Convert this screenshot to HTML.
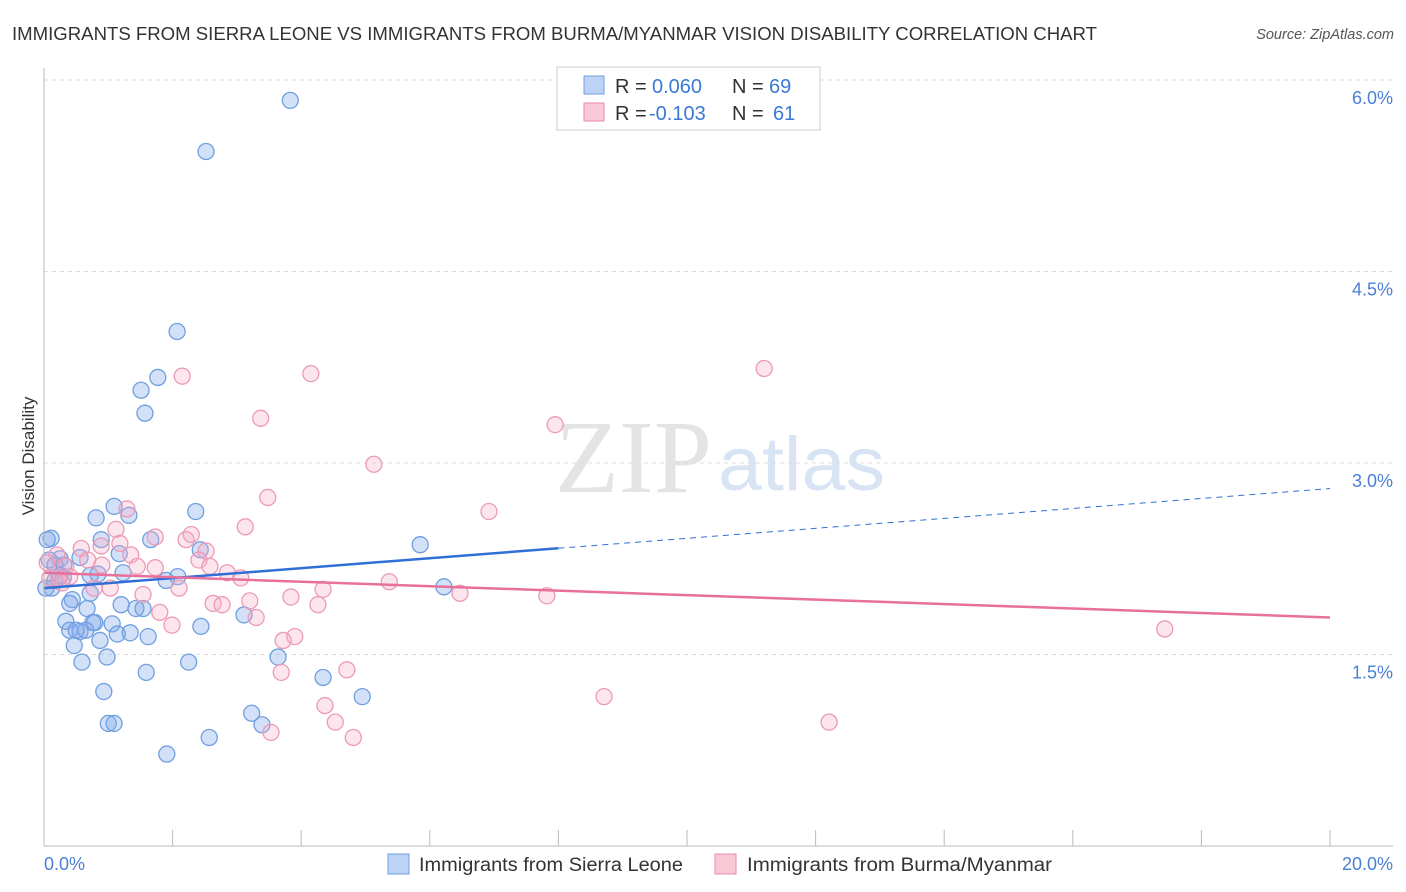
<!DOCTYPE html>
<html><head><meta charset="utf-8"><style>
body{margin:0;background:#fff;font-family:"Liberation Sans",sans-serif;}
#wrap{position:relative;width:1406px;height:892px;overflow:hidden;}
</style></head><body>
<div id="wrap">
<svg id="chart" width="1406" height="892">
<text x="12" y="40" font-size="18.5" fill="#333" textLength="1085" lengthAdjust="spacingAndGlyphs">IMMIGRANTS FROM SIERRA LEONE VS IMMIGRANTS FROM BURMA/MYANMAR VISION DISABILITY CORRELATION CHART</text>
<text x="1394" y="39" font-size="14.5" fill="#555" font-style="italic" text-anchor="end">Source: ZipAtlas.com</text>
<text x="555" y="492" font-size="104" fill="#e4e4e4" font-family="Liberation Serif,serif" textLength="157" lengthAdjust="spacingAndGlyphs">ZIP</text>
<text x="718" y="490" font-size="76" fill="#d8e4f4" textLength="167" lengthAdjust="spacingAndGlyphs">atlas</text>
<text transform="translate(34,456) rotate(-90)" font-size="17" fill="#333" text-anchor="middle">Vision Disability</text>
<g id="grid"></g><g id="pts"></g><g id="lines"></g>
<line x1="44" y1="68" x2="44" y2="846" stroke="#bbb"/>
<line x1="44" y1="846" x2="1393" y2="846" stroke="#bbb"/>
<text x="44" y="870" font-size="18" fill="#4a7fd4">0.0%</text>
<text x="1393" y="870" font-size="18" fill="#4a7fd4" text-anchor="end">20.0%</text>
<g>
<rect x="557" y="67" width="263" height="63" fill="#fff" stroke="#ccc"/>
<rect x="584" y="76" width="20" height="18" fill="#bcd3f5" stroke="#6f9fe0"/>
<rect x="584" y="103" width="20" height="18" fill="#f9c9d7" stroke="#e88aab"/>
<text x="615" y="93" font-size="20" fill="#333">R = <tspan x="652" fill="#3b78d8">0.060</tspan><tspan x="732">N = </tspan><tspan x="769" fill="#3b78d8">69</tspan></text>
<text x="615" y="120" font-size="20" fill="#333">R = <tspan x="649" fill="#3b78d8">-0.103</tspan><tspan x="732">N = </tspan><tspan x="773" fill="#3b78d8">61</tspan></text>
</g>
<g>
<rect x="388" y="854" width="21" height="20" fill="#bcd3f5" stroke="#6f9fe0"/>
<text x="419" y="871" font-size="19" fill="#333" textLength="264" lengthAdjust="spacingAndGlyphs">Immigrants from Sierra Leone</text>
<rect x="715" y="854" width="21" height="20" fill="#f9c9d7" stroke="#e88aab"/>
<text x="747" y="871" font-size="19" fill="#333" textLength="305" lengthAdjust="spacingAndGlyphs">Immigrants from Burma/Myanmar</text>
</g>
</svg>
</div>
<script>
const yTicks=[1.5,3.0,4.5,6.0];
const yTickLabels=["1.5%","3.0%","4.5%","6.0%"];
const xTicks=[2,4,6,8,10,12,14,16,18,20];
const blueX=[3.83,2.52,2.07,1.77,1.51,1.57,1.09,1.32,0.81,2.36,0.11,0.89,1.66,5.85,2.43,1.17,0.25,0.56,0.08,0.31,1.23,2.08,0.84,1.90,0.17,0.30,6.22,0.12,0.72,0.44,0.40,0.67,1.20,1.43,1.54,3.11,0.34,0.76,1.06,0.79,0.40,0.56,0.65,1.14,1.34,1.62,2.44,0.47,0.98,0.59,2.25,3.64,1.59,4.34,0.93,4.95,3.23,1.00,1.09,3.39,2.57,1.91,0.03,0.05,0.25,0.50,0.87,0.72,0.17];
const blueY=[5.84,5.44,4.03,3.67,3.57,3.39,2.66,2.59,2.57,2.62,2.41,2.40,2.40,2.36,2.32,2.29,2.25,2.26,2.24,2.20,2.14,2.11,2.13,2.08,2.08,2.10,2.03,2.02,1.98,1.93,1.90,1.86,1.89,1.86,1.86,1.81,1.76,1.75,1.74,1.75,1.69,1.68,1.69,1.66,1.67,1.64,1.72,1.57,1.48,1.44,1.44,1.48,1.36,1.32,1.21,1.17,1.04,0.96,0.96,0.95,0.85,0.72,2.02,2.40,2.12,1.69,1.61,2.12,2.20];
const pinkX=[2.15,4.15,11.20,3.37,7.95,5.13,3.48,6.92,1.29,3.13,1.12,1.73,2.29,2.21,0.89,1.18,2.52,0.58,1.35,0.20,0.68,0.05,0.34,0.90,2.41,1.45,1.73,2.58,2.85,3.06,0.09,0.40,0.28,2.10,1.03,0.78,5.37,4.34,6.47,7.82,3.84,1.54,3.20,4.26,2.63,2.77,1.80,3.30,1.99,17.43,3.90,3.72,4.71,3.69,8.71,4.37,4.53,12.21,3.53,4.81,0.23];
const pinkY=[3.68,3.70,3.74,3.35,3.30,2.99,2.73,2.62,2.64,2.50,2.48,2.42,2.44,2.40,2.35,2.37,2.31,2.33,2.28,2.28,2.24,2.22,2.19,2.20,2.24,2.19,2.18,2.19,2.14,2.10,2.10,2.11,2.06,2.02,2.02,2.02,2.07,2.01,1.98,1.96,1.95,1.97,1.92,1.89,1.90,1.89,1.83,1.79,1.73,1.70,1.64,1.61,1.38,1.36,1.17,1.10,0.97,0.97,0.89,0.85,2.10];
const blueTrend=[2.02,2.80];
const blueSolidEnd=8.0;
const pinkTrend=[2.14,1.79];

const NS="http://www.w3.org/2000/svg";
const xs=v=>44+v/20*1286;
const ys=v=>846-v*127.67;
function mk(tag,parent,attrs){const e=document.createElementNS(NS,tag);for(const k in attrs)e.setAttribute(k,attrs[k]);parent.appendChild(e);return e;}
const grid=document.getElementById('grid');
yTicks.forEach((t,i)=>{
  const l=mk('line',grid,{x1:44,x2:1393,y1:ys(t),y2:ys(t),stroke:'#ddd','stroke-dasharray':'4,4'});
  
  
  const tx=mk('text',grid,{x:1393,y:ys(t)+24,'font-size':18,fill:'#4a7fd4','text-anchor':'end'});
  tx.textContent=yTickLabels[i];
  
  
});
const topl=mk('line',grid,{x1:44,x2:1393,y1:80,y2:80,stroke:'#ddd','stroke-dasharray':'4,4'});


xTicks.forEach(t=>{
  const l=mk('line',grid,{x1:xs(t),x2:xs(t),y1:830,y2:846,stroke:'#bbb'});
  
  
});
const pts=document.getElementById('pts');
blueX.forEach((x,i)=>{
  const c=mk('circle',pts,{cx:xs(x),cy:ys(blueY[i]),r:8,fill:'rgba(130,170,235,0.35)',stroke:'#6f9fe0','stroke-width':1.3});
  
  
});
pinkX.forEach((x,i)=>{
  const c=mk('circle',pts,{cx:xs(x),cy:ys(pinkY[i]),r:8,fill:'rgba(245,170,195,0.3)',stroke:'#ec9ab6','stroke-width':1.3});
  
  
});
const lines=document.getElementById('lines');
const bAt=v=>blueTrend[0]+(blueTrend[1]-blueTrend[0])*v/20;
const b1=mk('line',lines,{x1:xs(0),y1:ys(bAt(0)),x2:xs(blueSolidEnd),y2:ys(bAt(blueSolidEnd)),stroke:'#2f6fd6','stroke-width':2.5});


const b2=mk('line',lines,{x1:xs(blueSolidEnd),y1:ys(bAt(blueSolidEnd)),x2:xs(20),y2:ys(bAt(20)),stroke:'#2f6fd6','stroke-width':1,'stroke-dasharray':'6,5'});


const p1=mk('line',lines,{x1:xs(0),y1:ys(pinkTrend[0]),x2:xs(20),y2:ys(pinkTrend[1]),stroke:'#e8709a','stroke-width':2.5});


</script>
</body></html>
